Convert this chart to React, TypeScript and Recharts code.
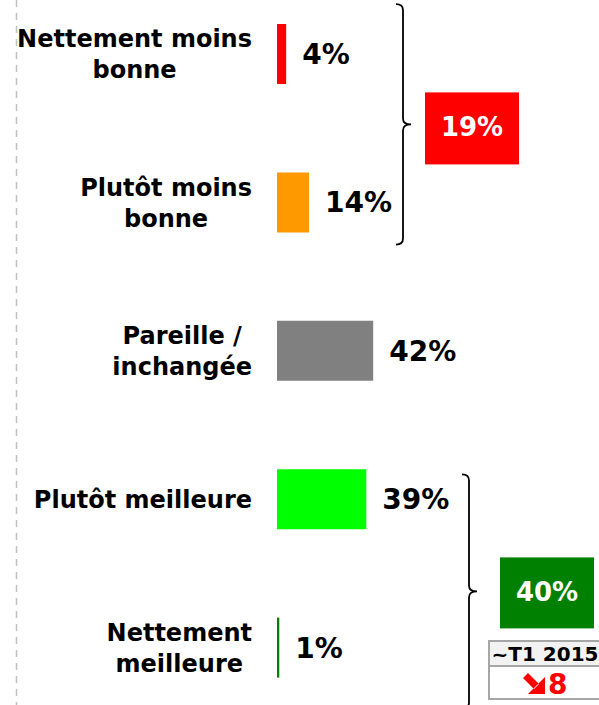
import { Bar, BarChart, Cell, LabelList, XAxis, YAxis } from "recharts";

const categories = [
  "Nettement moins bonne",
  "Plutôt moins bonne",
  "Pareille / inchangée",
  "Plutôt meilleure",
  "Nettement meilleure",
];
const categoryLines = [
  ["Nettement moins", "bonne"],
  ["Plutôt moins", "bonne"],
  ["Pareille /", "inchangée"],
  ["Plutôt meilleure"],
  ["Nettement", "meilleure"],
];
const values = [4, 14, 42, 39, 1];
const barColors = ["#ff0000", "#ff9900", "#808080", "#00ff00", "#008000"];
const groupTotals = ["19%", "40%"];
const trendPeriod = "~T1 2015";
const trendChange = "8";

const W = 599;
const H = 705;
const FONT = "Verdana, 'DejaVu Sans', sans-serif";
const LABEL_SIZE = 24;
const LABEL_RIGHT = 252;
const MARGIN = { top: -20, right: 93, bottom: -17, left: 0 };
const AXIS_W = 277;

const data = categories.map((name, i) => ({ name, value: values[i] }));

const band = (H - MARGIN.top - MARGIN.bottom) / categories.length;
const center = (i: number) => MARGIN.top + band * (i + 0.5);

let ctx: CanvasRenderingContext2D | null = null;
function textWidth(s: string) {
  if (!ctx) ctx = document.createElement("canvas").getContext("2d");
  if (!ctx) return s.length * LABEL_SIZE * 0.65;
  ctx.font = `bold ${LABEL_SIZE}px ${FONT}`;
  return ctx.measureText(s).width;
}

function CategoryTick(props: any) {
  const { y, payload } = props;
  const lines = categoryLines[categories.indexOf(payload.value)] || [payload.value];
  const widest = Math.max(...lines.map(textWidth));
  const cx = LABEL_RIGHT - widest / 2;
  const lh = 31;
  return (
    <g>
      {lines.map((l, i) => (
        <text
          key={i}
          x={cx}
          y={y + (i - (lines.length - 1) / 2) * lh + 8.75}
          textAnchor="middle"
          fontFamily={FONT}
          fontWeight="bold"
          fontSize={LABEL_SIZE}
          fill="#000"
        >
          {l}
        </text>
      ))}
    </g>
  );
}

function bracket(x: number, top: number, bottom: number, mid: number) {
  const r = 6;
  return `M ${x - 7} ${top} Q ${x} ${top} ${x} ${top + r} L ${x} ${mid - r} Q ${x} ${mid} ${x + 8} ${mid} Q ${x} ${mid} ${x} ${mid + r} L ${x} ${bottom - r} Q ${x} ${bottom} ${x - 7} ${bottom}`;
}

function Annotations() {
  const b1Top = center(0) - 50;
  const b1Bot = center(1) + 42;
  const b1Mid = (b1Top + b1Bot) / 2;
  const b2Top = center(3) - 25;
  const b2Mid = b2Top + 117;
  const b2Bot = b2Mid + 117;
  return (
    <svg
      width={W}
      height={H}
      style={{ position: "absolute", left: 0, top: 0, pointerEvents: "none" }}
    >
      <line x1={16.5} y1={0} x2={16.5} y2={H} stroke="#c0c0c0" strokeWidth={1.5} strokeDasharray="7 6" />
      <path d={bracket(403, b1Top, b1Bot, b1Mid)} fill="none" stroke="#000" strokeWidth={1.8} />
      <rect x={425} y={b1Mid - 32} width={94} height={72} fill="#ff0000" />
      <text x={472} y={b1Mid + 4} textAnchor="middle" dominantBaseline="middle" fontFamily={FONT} fontWeight="bold" fontSize={26} fill="#fff">
        {groupTotals[0]}
      </text>

      <path d={bracket(469, b2Top, b2Bot, b2Mid)} fill="none" stroke="#000" strokeWidth={1.8} />
      <rect x={500} y={b2Mid - 34} width={94} height={71} fill="#008000" />
      <text x={547} y={b2Mid + 2} textAnchor="middle" dominantBaseline="middle" fontFamily={FONT} fontWeight="bold" fontSize={26} fill="#fff">
        {groupTotals[1]}
      </text>

      <rect x={489} y={641} width={112} height={25} fill="#f2f2f2" stroke="#a6a6a6" strokeWidth={2} />
      <rect x={489} y={666} width={112} height={33} fill="#fff" stroke="#a6a6a6" strokeWidth={2} />
      <text x={545} y={661} textAnchor="middle" fontFamily={FONT} fontWeight="bold" fontSize={20} fill="#000">
        {trendPeriod}
      </text>
      <path d="M 528 673 L 539 684 L 534 689 L 523 678 Z M 545 694 L 545 677 L 528 694 Z" fill="#ff0000" />
      <text x={548} y={694} fontFamily={FONT} fontWeight="bold" fontSize={28} fill="#ff0000">
        {trendChange}
      </text>
    </svg>
  );
}

export default function App() {
  return (
    <div style={{ position: "relative", width: W, height: H, background: "#fff" }}>
      <style>{`body{margin:0}`}</style>
      <BarChart width={W} height={H} data={data} layout="vertical" margin={MARGIN}>
        <XAxis type="number" domain={[0, 100]} hide />
        <YAxis
          type="category"
          dataKey="name"
          width={AXIS_W}
          axisLine={false}
          tickLine={false}
          tick={<CategoryTick />}
          interval={0}
        />
        <Bar dataKey="value" barSize={60} isAnimationActive={false}>
          {data.map((d, i) => (
            <Cell key={i} fill={barColors[i]} />
          ))}
          <LabelList
            dataKey="value"
            position="right"
            offset={16}
            formatter={(v: any) => `${v}%`}
            fill="#000"
            fontSize={28}
            fontWeight="bold"
            fontFamily={FONT}
          />
        </Bar>
      </BarChart>
      <Annotations />
    </div>
  );
}
